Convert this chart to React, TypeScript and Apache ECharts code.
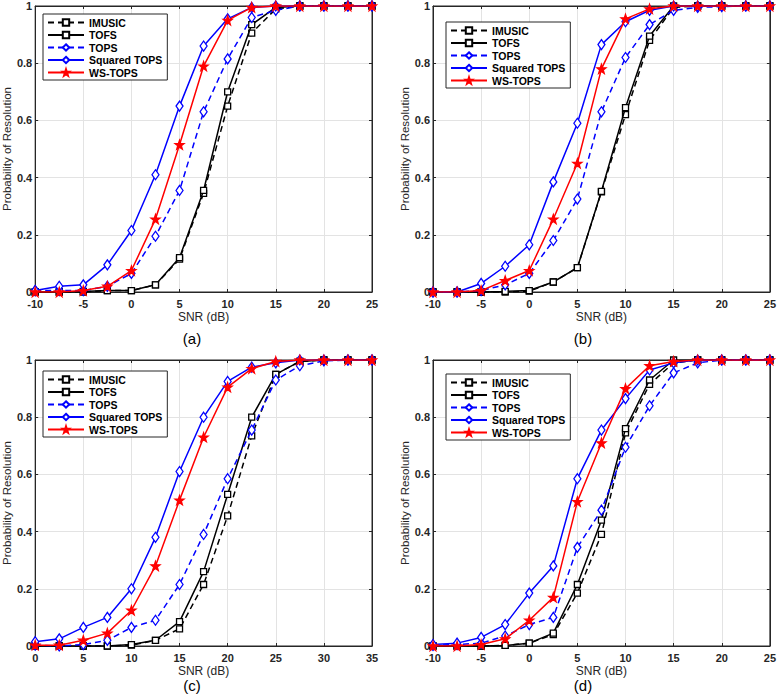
import React, { useEffect, useRef } from "react";
import * as echarts from "echarts";

const snrABD = [-10, -7.5, -5, -2.5, 0, 2.5, 5, 7.5, 10, 12.5, 15, 17.5, 20, 22.5, 25];
const snrC = [0, 2.5, 5, 7.5, 10, 12.5, 15, 17.5, 20, 22.5, 25, 27.5, 30, 32.5, 35];
const yTicks = [0, 0.2, 0.4, 0.6, 0.8, 1];
const seriesNames = ["IMUSIC", "TOFS", "TOPS", "Squared TOPS", "WS-TOPS"];
const panelLabels = ["(a)", "(b)", "(c)", "(d)"];

const aImusic = [0, 0, 0, 0.005, 0.005, 0.025, 0.115, 0.345, 0.65, 0.905, 0.99, 1, 1, 1, 1];
const aTofs = [0, 0, 0.002, 0.005, 0.005, 0.025, 0.12, 0.355, 0.7, 0.935, 0.995, 1, 1, 1, 1];
const aTops = [0.005, 0.005, 0.005, 0.02, 0.065, 0.195, 0.355, 0.63, 0.815, 0.96, 0.985, 1, 1, 1, 1];
const aSq = [0.005, 0.02, 0.025, 0.095, 0.215, 0.41, 0.65, 0.86, 0.955, 0.995, 1, 1, 1, 1, 1];
const aWs = [0, 0, 0.005, 0.02, 0.075, 0.255, 0.515, 0.79, 0.95, 0.995, 1, 1, 1, 1, 1];

const bImusic = [0, 0, 0, 0, 0.003, 0.035, 0.085, 0.35, 0.62, 0.88, 0.995, 1, 1, 1, 1];
const bTofs = [0, 0, 0, 0.002, 0.005, 0.035, 0.085, 0.352, 0.645, 0.895, 1, 1, 1, 1, 1];
const bTops = [0, 0, 0.005, 0.025, 0.065, 0.18, 0.325, 0.63, 0.82, 0.935, 0.985, 0.995, 0.998, 1, 1];
const bSq = [0, 0, 0.03, 0.09, 0.165, 0.385, 0.59, 0.865, 0.945, 0.985, 1, 1, 1, 1, 1];
const bWs = [0, 0, 0.005, 0.04, 0.075, 0.255, 0.45, 0.78, 0.955, 0.99, 1, 1, 1, 1, 1];

const cImusic = [0, 0, 0, 0, 0.003, 0.02, 0.06, 0.215, 0.455, 0.735, 0.95, 0.995, 1, 1, 1];
const cTofs = [0, 0, 0, 0, 0.005, 0.02, 0.085, 0.26, 0.53, 0.8, 0.95, 0.995, 1, 1, 1];
const cTops = [0.003, 0, 0.005, 0.02, 0.065, 0.09, 0.215, 0.39, 0.585, 0.755, 0.93, 0.98, 0.997, 1, 1];
const cSq = [0.015, 0.025, 0.065, 0.1, 0.2, 0.38, 0.61, 0.8, 0.925, 0.975, 0.99, 1, 1, 1, 1];
const cWs = [0.003, 0.003, 0.02, 0.045, 0.125, 0.28, 0.51, 0.73, 0.905, 0.97, 0.995, 1, 1, 1, 1];

const dImusic = [0, 0, 0, 0.002, 0.01, 0.04, 0.185, 0.39, 0.745, 0.915, 0.99, 1, 1, 1, 1];
const dTofs = [0, 0, 0, 0.002, 0.01, 0.045, 0.215, 0.44, 0.76, 0.93, 1, 1, 1, 1, 1];
const dTops = [0.002, 0.005, 0.01, 0.035, 0.075, 0.1, 0.345, 0.475, 0.695, 0.84, 0.955, 0.99, 1, 1, 1];
const dSq = [0.005, 0.01, 0.03, 0.075, 0.185, 0.28, 0.585, 0.755, 0.865, 0.965, 0.99, 1, 1, 1, 1];
const dWs = [0, 0, 0.005, 0.025, 0.09, 0.17, 0.505, 0.71, 0.9, 0.98, 0.995, 1, 1, 1, 1];

const STAR =
  "path://M0,-10 L2.35,-3.24 L9.51,-3.09 L3.8,1.24 L5.88,8.09 L0,4 L-5.88,8.09 L-3.8,1.24 L-9.51,-3.09 L-2.35,-3.24 Z";

const FONT = "'Liberation Sans', Arial, sans-serif";
const TXT = "#262626";

export default function App() {
  const ref = useRef<HTMLDivElement>(null);
  useEffect(() => {
    document.body.style.margin = "0";
    if (!ref.current) return;
    const chart = echarts.init(ref.current, undefined, { renderer: "svg" });

    const panels = [
      { x: snrABD, data: [aImusic, aTofs, aTops, aSq, aWs], min: -10, max: 25, grid: { left: 32, top: 6 }, legend: { left: 43, top: 14 }, label: [192, 338] },
      { x: snrABD, data: [bImusic, bTofs, bTops, bSq, bWs], min: -10, max: 25, grid: { left: 433, top: 6 }, legend: { left: 446, top: 22 }, label: [583, 338] },
      { x: snrC, data: [cImusic, cTofs, cTops, cSq, cWs], min: 0, max: 35, grid: { left: 32, top: 360 }, legend: { left: 43, top: 371 }, label: [192, 685] },
      { x: snrABD, data: [dImusic, dTofs, dTops, dSq, dWs], min: -10, max: 25, grid: { left: 433, top: 360 }, legend: { left: 446, top: 374 }, label: [583, 685] },
    ];

    const styles = [
      { color: "#000000", type: [6, 4], symbol: "rect", size: 6, fill: "#ffffff" },
      { color: "#000000", type: "solid", symbol: "rect", size: 6, fill: "#ffffff" },
      { color: "#0000ff", type: [6, 4], symbol: "diamond", size: [7, 10], fill: "#ffffff" },
      { color: "#0000ff", type: "solid", symbol: "diamond", size: [7, 10], fill: "#ffffff" },
      { color: "#ff0000", type: "solid", symbol: STAR, size: 9, fill: "#ff0000" },
    ];

    const grids: any[] = [];
    const xAxes: any[] = [];
    const yAxes: any[] = [];
    const series: any[] = [];
    const legends: any[] = [];
    const graphics: any[] = [];

    panels.forEach((p, i) => {
      grids.push({ left: p.grid.left, top: p.grid.top, width: 340, height: 286, show: true, borderColor: TXT, borderWidth: 1, backgroundColor: "#fff" });
      const common = {
        gridIndex: i,
        type: "value",
        axisLine: { show: true, onZero: false, lineStyle: { color: TXT, width: 1 } },
        axisTick: { show: true, inside: true, length: 3, lineStyle: { color: TXT } },
      };
      xAxes.push({
        ...common,
        min: p.min,
        max: p.max,
        interval: 5,
        position: "bottom",
        name: "SNR (dB)",
        nameLocation: "middle",
        nameGap: 19,
        nameTextStyle: { fontSize: 12, color: TXT, fontFamily: FONT },
        axisLabel: { fontSize: 11, lineHeight: 11, color: TXT, fontFamily: FONT, fontWeight: "bold", margin: 6 },
        splitLine: { show: true, lineStyle: { color: "#e3e3e3", width: 1 } },
      });
      xAxes.push({
        ...common,
        min: p.min,
        max: p.max,
        interval: 5,
        position: "top",
        axisLabel: { show: false },
        splitLine: { show: false },
      });
      yAxes.push({
        ...common,
        min: 0,
        max: 1,
        interval: 0.2,
        position: "left",
        name: "Probability of Resolution",
        nameLocation: "middle",
        nameGap: 19,
        nameRotate: 90,
        nameTextStyle: { fontSize: 11.5, color: TXT, fontFamily: FONT },
        axisLabel: {
          fontSize: 11,
          lineHeight: 10,
          color: TXT,
          fontFamily: FONT,
          fontWeight: "bold",
          margin: 3,
          formatter: (v: number) => (yTicks.includes(v) ? String(v) : ""),
        },
        splitLine: { show: true, lineStyle: { color: "#e3e3e3", width: 1 } },
      });
      yAxes.push({
        ...common,
        min: 0,
        max: 1,
        interval: 0.2,
        position: "right",
        axisLabel: { show: false },
        splitLine: { show: false },
      });

      p.data.forEach((vals, k) => {
        const s = styles[k];
        series.push({
          type: "line",
          name: seriesNames[k],
          xAxisIndex: i * 2,
          yAxisIndex: i * 2,
          data: p.x.map((xv, j) => [xv, vals[j]]),
          symbol: s.symbol,
          symbolSize: s.size,
          showSymbol: true,
          z: 2 + k,
          lineStyle: { color: s.color, width: 1.5, type: s.type },
          itemStyle: { color: s.fill, borderColor: s.color, borderWidth: 1.3 },
          emphasis: { disabled: true },
        });
      });

      legends.push({
        left: p.legend.left,
        top: p.legend.top,
        orient: "vertical",
        data: seriesNames,
        itemWidth: 36,
        itemHeight: 8,
        itemGap: 1.5,
        padding: [3, 5, 2, 4],
        borderColor: TXT,
        borderWidth: 1,
        backgroundColor: "#fff",
        selectedMode: false,
        textStyle: { fontSize: 10.5, lineHeight: 10, color: "#000", fontFamily: FONT, fontWeight: "bold", padding: [0, 0, 0, 0] },
      });

      graphics.push({
        type: "text",
        x: p.label[0],
        y: p.label[1],
        style: { text: panelLabels[i], fontSize: 15, fill: "#000", font: `15px ${FONT}`, align: "center", verticalAlign: "middle" },
      });
    });

    chart.setOption({
      animation: false,
      backgroundColor: "#fff",
      grid: grids,
      xAxis: xAxes,
      yAxis: yAxes,
      series,
      legend: legends,
      graphic: graphics,
    });
    return () => chart.dispose();
  }, []);
  return <div ref={ref} style={{ width: 779, height: 699 }} />;
}
